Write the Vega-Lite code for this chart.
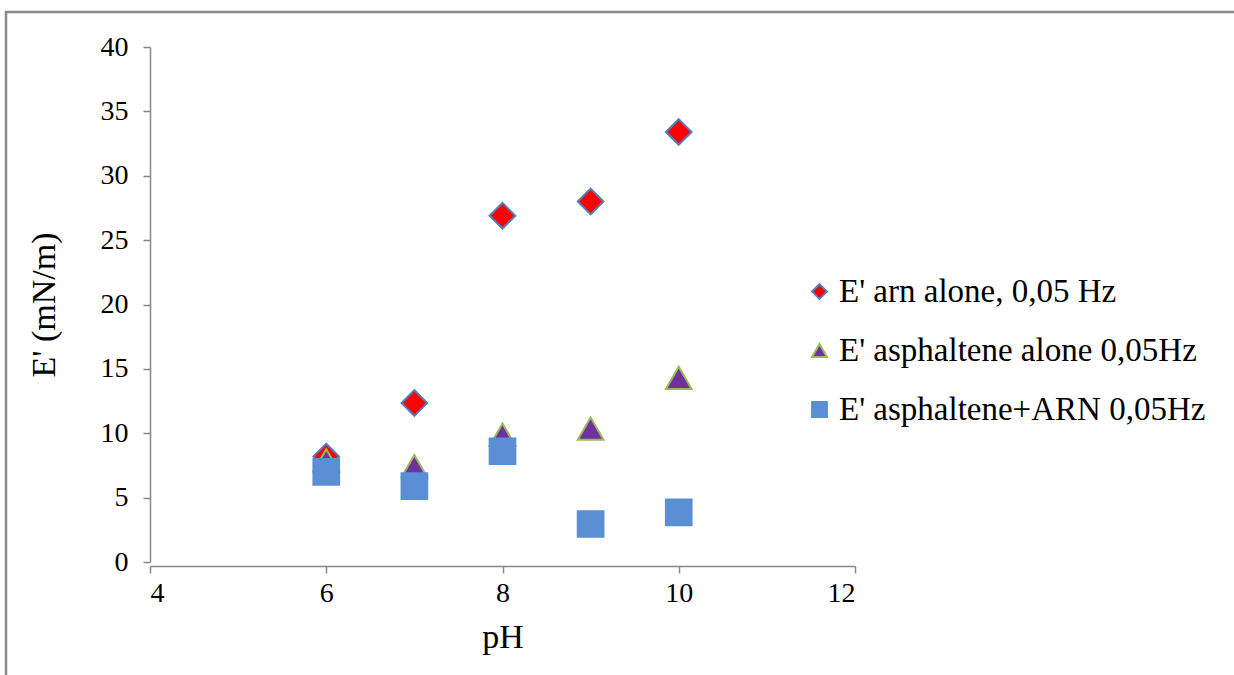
{
  "$schema": "https://vega.github.io/schema/vega-lite/v6.json",
  "autosize": {"type": "fit", "contains": "padding"},
  "width": 1234,
  "height": 675,
  "padding": {"left": 6, "top": 12, "right": -4, "bottom": -4},
  "background": "white",
  "config": {
    "view": {"stroke": "#888888", "strokeWidth": 2.5},
    "font": "Liberation Serif"
  },
  "data": {
    "values": [
      {"pH": 6, "E": 8.2, "series": "E' arn alone, 0,05 Hz"},
      {"pH": 7, "E": 12.35, "series": "E' arn alone, 0,05 Hz"},
      {"pH": 8, "E": 26.9, "series": "E' arn alone, 0,05 Hz"},
      {"pH": 9, "E": 28.0, "series": "E' arn alone, 0,05 Hz"},
      {"pH": 10, "E": 33.4, "series": "E' arn alone, 0,05 Hz"},
      {"pH": 6, "E": 7.9, "series": "E' asphaltene alone 0,05Hz"},
      {"pH": 7, "E": 7.45, "series": "E' asphaltene alone 0,05Hz"},
      {"pH": 8, "E": 9.9, "series": "E' asphaltene alone 0,05Hz"},
      {"pH": 9, "E": 10.35, "series": "E' asphaltene alone 0,05Hz"},
      {"pH": 10, "E": 14.3, "series": "E' asphaltene alone 0,05Hz"},
      {"pH": 6, "E": 7.0, "series": "E' asphaltene+ARN 0,05Hz"},
      {"pH": 7, "E": 5.9, "series": "E' asphaltene+ARN 0,05Hz"},
      {"pH": 8, "E": 8.6, "series": "E' asphaltene+ARN 0,05Hz"},
      {"pH": 9, "E": 2.95, "series": "E' asphaltene+ARN 0,05Hz"},
      {"pH": 10, "E": 3.85, "series": "E' asphaltene+ARN 0,05Hz"}
    ]
  },
  "mark": {"type": "point", "filled": true, "size": 660, "strokeWidth": 2, "opacity": 1},
  "encoding": {
    "x": {
      "field": "pH", "type": "quantitative",
      "scale": {"domain": [4, 12], "range": [144, 849], "nice": false, "zero": false},
      "axis": {
        "values": [4, 6, 8, 10, 12], "grid": false, "offset": -113,
        "domainColor": "#888888", "domainWidth": 1.5, "tickColor": "#888888", "tickWidth": 1.5, "tickSize": 7,
        "labelFontSize": 28, "labelColor": "black", "labelPadding": 6, "labelFont": "Liberation Serif",
        "title": "pH", "titleFontSize": 34, "titleFontWeight": "normal", "titleColor": "black", "titlePadding": 13, "titleFont": "Liberation Serif"
      }
    },
    "y": {
      "field": "E", "type": "quantitative",
      "scale": {"domain": [0, 40], "range": [550, 35], "nice": false},
      "axis": {
        "values": [0, 5, 10, 15, 20, 25, 30, 35, 40], "grid": false, "offset": -144,
        "domainColor": "#888888", "domainWidth": 1.5, "tickColor": "#888888", "tickWidth": 1.5, "tickSize": 7,
        "labelFontSize": 28, "labelColor": "black", "labelPadding": 15, "labelFont": "Liberation Serif",
        "title": "E' (mN/m)", "titleFontSize": 34, "titleFontWeight": "normal", "titleColor": "black", "titlePadding": 39, "titleFont": "Liberation Serif"
      }
    },
    "shape": {
      "field": "series", "type": "nominal",
      "scale": {"range": ["diamond", "triangle-up", "square"]},
      "legend": {
        "title": null, "orient": "none", "legendX": 797, "legendY": 263,
        "labelFontSize": 33, "labelColor": "black", "labelFont": "Liberation Serif", "labelLimit": 0,
        "symbolSize": 220, "rowPadding": 25, "labelOffset": 3, "symbolStrokeWidth": 2
      }
    },
    "fill": {
      "field": "series", "type": "nominal",
      "scale": {"range": ["#ff0000", "#7030a0", "#5a8fd5"]},
      "legend": null
    },
    "stroke": {
      "field": "series", "type": "nominal",
      "scale": {"range": ["#4f81bd", "#9bbb59", "#5a8fd5"]},
      "legend": null
    }
  }
}
